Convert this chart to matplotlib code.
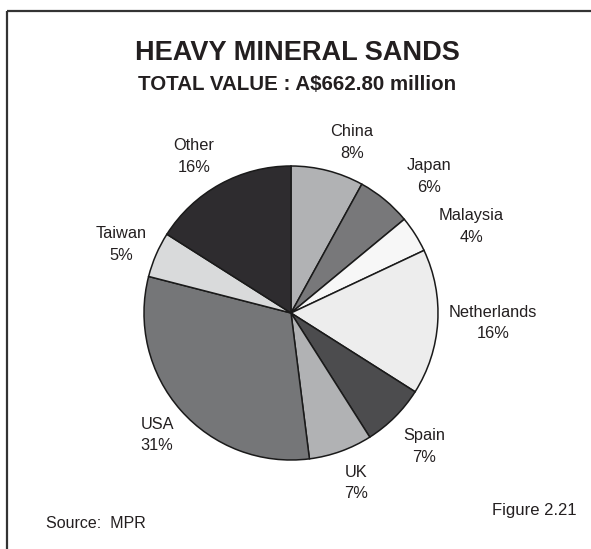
import matplotlib.pyplot as plt
from matplotlib.patches import Rectangle

plt.rcParams['font.family'] = ['Liberation Sans', 'DejaVu Sans']

countries = ["China", "Japan", "Malaysia", "Netherlands", "Spain", "UK", "USA", "Taiwan", "Other"]
shares = [8, 6, 4, 16, 7, 7, 31, 5, 16]
colors = ["#b1b2b4", "#78787a", "#f7f7f7", "#ededed", "#4c4c4e",
          "#b1b2b4", "#757678", "#d9dadb", "#2e2c2f"]

# label anchor (x centre, baseline of name line) in pixel coords
label_pos = [(352, 136), (429, 170), (471, 220), (493, 317), (424, 440),
             (356, 477), (157, 429), (121, 238), (194, 150)]

txt = "#231f20"

fig = plt.figure(figsize=(5.91, 5.49), dpi=100)
ax = fig.add_axes([0, 0, 1, 1])

ax.pie(shares, colors=colors, center=(291, 313), radius=147,
       startangle=-90, counterclock=True,
       wedgeprops=dict(edgecolor="#1a1a1a", linewidth=1.1))
ax.set_xlim(0, 591)
ax.set_ylim(549, 0)
ax.set_aspect('equal')
ax.axis('off')

for name, pct, (x, y) in zip(countries, shares, label_pos):
    ax.text(x, y, name, ha='center', va='baseline', fontsize=11.8, color=txt)
    ax.text(x, y + 21.5, f"{pct}%", ha='center', va='baseline', fontsize=11.8, color=txt)

ax.text(297, 60, "HEAVY MINERAL SANDS", ha='center', va='baseline',
        fontsize=19.5, fontweight='bold', color=txt)
ax.text(297, 90, "TOTAL VALUE : A$662.80 million", ha='center', va='baseline',
        fontsize=14.8, fontweight='bold', color=txt)
ax.text(46, 528, "Source:  MPR", ha='left', va='baseline', fontsize=11.5, color=txt)
ax.text(577, 515, "Figure 2.21", ha='right', va='baseline', fontsize=12, color=txt)

ax.add_patch(Rectangle((6.7, 10.7), 620, 560, fill=False,
                       edgecolor="#333333", linewidth=1.6, clip_on=False))

fig.savefig("out.png", dpi=100)
